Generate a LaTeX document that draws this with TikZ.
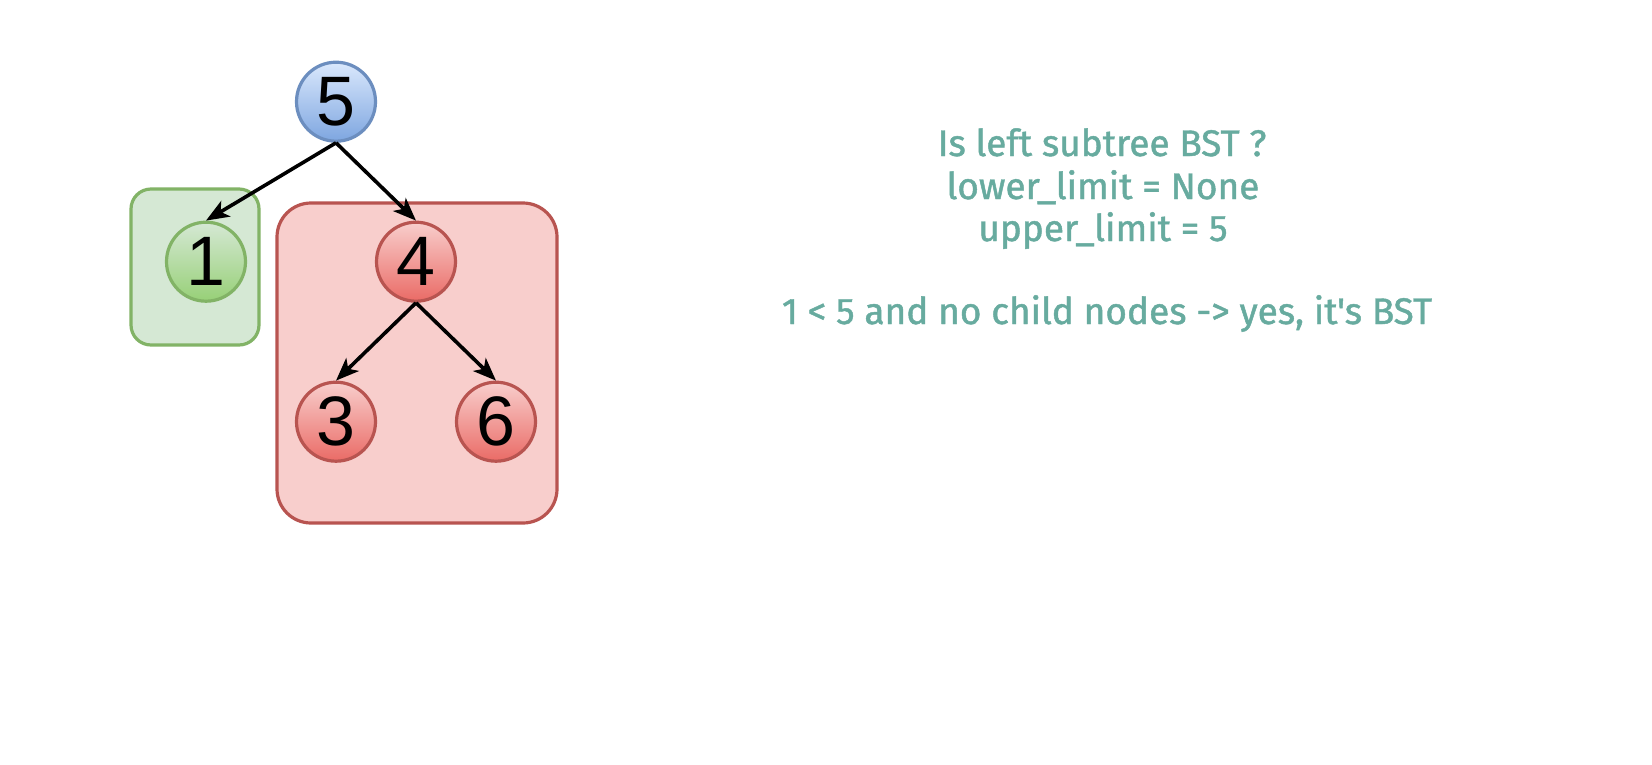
\documentclass[tikz,border=0pt]{standalone}
\usepackage{fontspec}
\usetikzlibrary{arrows.meta}
\setmainfont{Liberation Sans}
\newfontfamily\notefont{Fira Sans}[Ligatures=ResetAll,FakeBold=1.2]
\definecolor{bluefillA}{HTML}{DAE8FC}
\definecolor{bluefillB}{HTML}{7EA6E0}
\definecolor{bluedraw}{HTML}{6C8EBF}
\definecolor{greenfillA}{HTML}{D5E8D4}
\definecolor{greenfillB}{HTML}{97D077}
\definecolor{greendraw}{HTML}{82B366}
\definecolor{redfillA}{HTML}{F8CECC}
\definecolor{redfillB}{HTML}{EA6B66}
\definecolor{reddraw}{HTML}{B85450}
\definecolor{notecolor}{HTML}{67AB9F}
\tikzset{
  treenode/.style={circle, minimum size=79pt, inner sep=0pt, line width=3.2pt,
    font=\fontsize{70}{70}\selectfont},
  bluenode/.style={treenode, draw=bluedraw, top color=bluefillA, bottom color=bluefillB},
  greennode/.style={treenode, draw=greendraw, top color=greenfillA, bottom color=greenfillB},
  rednode/.style={treenode, draw=reddraw, top color=redfillA, bottom color=redfillB},
  greenbox/.style={draw=greendraw, fill=greenfillA, line width=3.2pt, rounded corners=20pt},
  redbox/.style={draw=reddraw, fill=redfillA, line width=3.2pt, rounded corners=34pt},
  edge/.style={line width=3.6pt, -{Stealth[length=23pt,width=18pt,inset=6pt]}},
  note/.style={text=notecolor, align=center, font=\notefont\fontsize{37}{42}\selectfont}
}
\begin{document}
\begin{tikzpicture}[x=1pt,y=-1pt]
\useasboundingbox[fill=white] (0,0) rectangle (1652,764);
\draw[greenbox] (131,189) rectangle (259,345);
\draw[redbox] (277,203) rectangle (557,523);
\node[bluenode] (n5) at (336,101.7) {5};
\node[greennode] (n1) at (206,261.7) {1};
\node[rednode] (n4) at (416,261.7) {4};
\node[rednode] (n3) at (336,421.7) {3};
\node[rednode] (n6) at (496,421.7) {6};
\draw[edge] (n5.south) -- (n1.north);
\draw[edge] (n5.south) -- (n4.north);
\draw[edge] (n4.south) -- (n3.north);
\draw[edge] (n4.south) -- (n6.north);
\node[note, anchor=base] (t1) at (1102,156) {Is left subtree BST ?};
\node[note, anchor=base] (t2) at (1103,199) {lower\_limit = None};
\node[note, anchor=base] (t3) at (1103,241) {upper\_limit = 5};
\node[note, anchor=base] (t4) at (1107,324) {1 < 5 and no child nodes -> yes, it's BST};
\end{tikzpicture}
\end{document}
